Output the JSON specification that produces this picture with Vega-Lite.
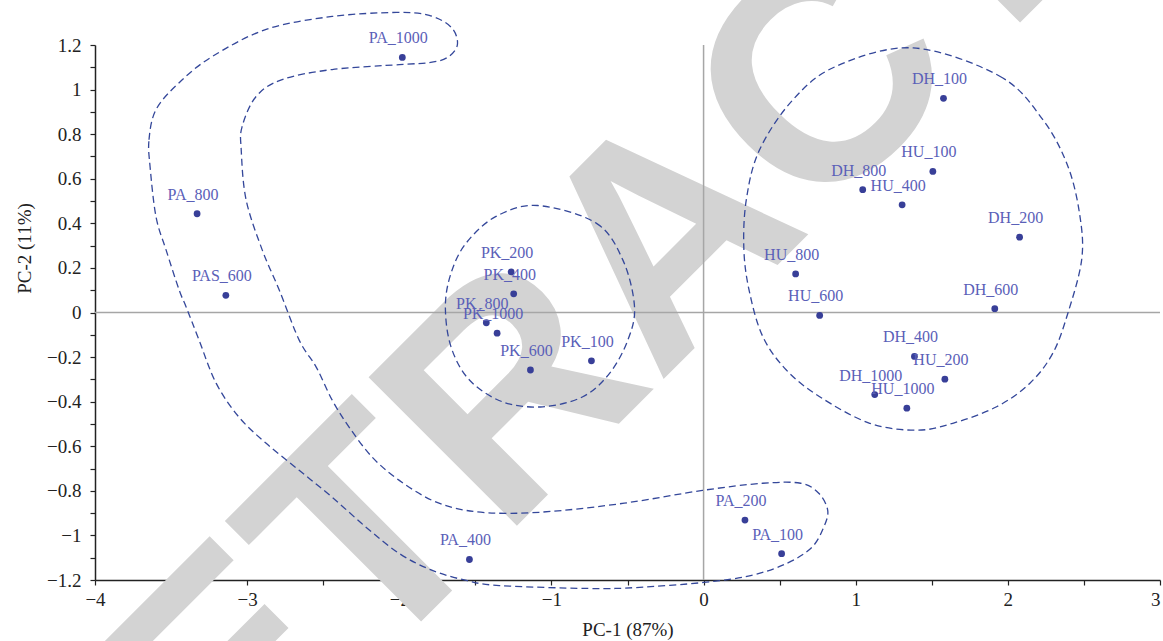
{
  "$schema": "https://vega.github.io/schema/vega-lite/v6.json",
  "width": 1065,
  "height": 535,
  "autosize": {"type": "none"},
  "padding": {"left": 95, "top": 45, "right": 3, "bottom": 61},
  "background": "white",
  "config": {
    "view": {"stroke": null},
    "axis": {
      "grid": false,
      "zindex": 1,
      "labelFont": "Liberation Serif",
      "labelFontSize": 19,
      "labelColor": "#222222",
      "titleFont": "Liberation Serif",
      "titleFontSize": 19,
      "titleFontWeight": "normal",
      "titleColor": "#222222",
      "domainColor": "#222222",
      "domainWidth": 1.5,
      "tickColor": "#222222",
      "tickWidth": 1.2,
      "tickSize": 5,
      "labelFlush": false,
      "labelOverlap": false,
      "format": "~g"
    }
  },
  "datasets": {
    "points": [
      {"name": "PA_1000", "x": -1.98, "y": 1.144},
      {"name": "PA_800", "x": -3.329, "y": 0.443},
      {"name": "PAS_600", "x": -3.14, "y": 0.077},
      {"name": "PK_200", "x": -1.265, "y": 0.182},
      {"name": "PK_400", "x": -1.248, "y": 0.084},
      {"name": "PK_800", "x": -1.428, "y": -0.046},
      {"name": "PK_1000", "x": -1.357, "y": -0.093},
      {"name": "PK_600", "x": -1.138, "y": -0.258},
      {"name": "PK_100", "x": -0.737, "y": -0.217},
      {"name": "PA_400", "x": -1.539, "y": -1.108},
      {"name": "PA_200", "x": 0.272, "y": -0.931},
      {"name": "PA_100", "x": 0.513, "y": -1.082},
      {"name": "DH_100", "x": 1.577, "y": 0.961},
      {"name": "HU_100", "x": 1.507, "y": 0.633},
      {"name": "DH_800", "x": 1.046, "y": 0.551},
      {"name": "HU_400", "x": 1.305, "y": 0.483},
      {"name": "DH_200", "x": 2.077, "y": 0.338},
      {"name": "HU_800", "x": 0.605, "y": 0.173},
      {"name": "HU_600", "x": 0.763, "y": -0.013},
      {"name": "DH_600", "x": 1.914, "y": 0.017},
      {"name": "DH_400", "x": 1.386, "y": -0.197},
      {"name": "HU_200", "x": 1.586, "y": -0.299},
      {"name": "DH_1000", "x": 1.125, "y": -0.368},
      {"name": "HU_1000", "x": 1.336, "y": -0.429}
    ],
    "outlines": [
      {"shape": "PA", "i": 1, "x": -3.638, "y": 0.654},
      {"shape": "PA", "i": 2, "x": -3.645, "y": 0.775},
      {"shape": "PA", "i": 3, "x": -3.599, "y": 0.91},
      {"shape": "PA", "i": 4, "x": -3.447, "y": 1.031},
      {"shape": "PA", "i": 5, "x": -3.23, "y": 1.148},
      {"shape": "PA", "i": 6, "x": -2.875, "y": 1.27},
      {"shape": "PA", "i": 7, "x": -2.441, "y": 1.328},
      {"shape": "PA", "i": 8, "x": -2.02, "y": 1.346},
      {"shape": "PA", "i": 9, "x": -1.803, "y": 1.333},
      {"shape": "PA", "i": 10, "x": -1.658, "y": 1.279},
      {"shape": "PA", "i": 11, "x": -1.618, "y": 1.202},
      {"shape": "PA", "i": 12, "x": -1.684, "y": 1.144},
      {"shape": "PA", "i": 13, "x": -1.803, "y": 1.121},
      {"shape": "PA", "i": 14, "x": -2.0, "y": 1.112},
      {"shape": "PA", "i": 15, "x": -2.441, "y": 1.09},
      {"shape": "PA", "i": 16, "x": -2.77, "y": 1.045},
      {"shape": "PA", "i": 17, "x": -2.941, "y": 0.969},
      {"shape": "PA", "i": 18, "x": -3.033, "y": 0.834},
      {"shape": "PA", "i": 19, "x": -3.039, "y": 0.73},
      {"shape": "PA", "i": 20, "x": -3.007, "y": 0.506},
      {"shape": "PA", "i": 21, "x": -2.901, "y": 0.281},
      {"shape": "PA", "i": 22, "x": -2.789, "y": 0.101},
      {"shape": "PA", "i": 23, "x": -2.658, "y": -0.124},
      {"shape": "PA", "i": 24, "x": -2.546, "y": -0.245},
      {"shape": "PA", "i": 25, "x": -2.441, "y": -0.393},
      {"shape": "PA", "i": 26, "x": -2.329, "y": -0.515},
      {"shape": "PA", "i": 27, "x": -2.178, "y": -0.649},
      {"shape": "PA", "i": 28, "x": -2.0, "y": -0.753},
      {"shape": "PA", "i": 29, "x": -1.783, "y": -0.843},
      {"shape": "PA", "i": 30, "x": -1.559, "y": -0.888},
      {"shape": "PA", "i": 31, "x": -1.276, "y": -0.901},
      {"shape": "PA", "i": 32, "x": -0.928, "y": -0.888},
      {"shape": "PA", "i": 33, "x": -0.487, "y": -0.852},
      {"shape": "PA", "i": 34, "x": -0.007, "y": -0.798},
      {"shape": "PA", "i": 35, "x": 0.388, "y": -0.766},
      {"shape": "PA", "i": 36, "x": 0.638, "y": -0.766},
      {"shape": "PA", "i": 37, "x": 0.757, "y": -0.811},
      {"shape": "PA", "i": 38, "x": 0.816, "y": -0.888},
      {"shape": "PA", "i": 39, "x": 0.789, "y": -0.964},
      {"shape": "PA", "i": 40, "x": 0.711, "y": -1.054},
      {"shape": "PA", "i": 41, "x": 0.546, "y": -1.126},
      {"shape": "PA", "i": 42, "x": 0.309, "y": -1.18},
      {"shape": "PA", "i": 43, "x": 0.0, "y": -1.211},
      {"shape": "PA", "i": 44, "x": -0.447, "y": -1.234},
      {"shape": "PA", "i": 45, "x": -0.757, "y": -1.238},
      {"shape": "PA", "i": 46, "x": -1.342, "y": -1.225},
      {"shape": "PA", "i": 47, "x": -1.559, "y": -1.202},
      {"shape": "PA", "i": 48, "x": -1.783, "y": -1.157},
      {"shape": "PA", "i": 49, "x": -2.0, "y": -1.081},
      {"shape": "PA", "i": 50, "x": -2.217, "y": -0.964},
      {"shape": "PA", "i": 51, "x": -2.441, "y": -0.829},
      {"shape": "PA", "i": 52, "x": -2.658, "y": -0.708},
      {"shape": "PA", "i": 53, "x": -2.875, "y": -0.587},
      {"shape": "PA", "i": 54, "x": -3.053, "y": -0.47},
      {"shape": "PA", "i": 55, "x": -3.204, "y": -0.317},
      {"shape": "PA", "i": 56, "x": -3.316, "y": -0.124},
      {"shape": "PA", "i": 57, "x": -3.401, "y": 0.025},
      {"shape": "PA", "i": 58, "x": -3.447, "y": 0.101},
      {"shape": "PA", "i": 59, "x": -3.533, "y": 0.281},
      {"shape": "PA", "i": 60, "x": -3.599, "y": 0.429},
      {"shape": "PK", "i": 1, "x": -1.09, "y": 0.48},
      {"shape": "PK", "i": 2, "x": -0.706, "y": 0.401},
      {"shape": "PK", "i": 3, "x": -0.531, "y": 0.236},
      {"shape": "PK", "i": 4, "x": -0.454, "y": 0.026},
      {"shape": "PK", "i": 5, "x": -0.498, "y": -0.124},
      {"shape": "PK", "i": 6, "x": -0.618, "y": -0.273},
      {"shape": "PK", "i": 7, "x": -0.794, "y": -0.378},
      {"shape": "PK", "i": 8, "x": -1.057, "y": -0.423},
      {"shape": "PK", "i": 9, "x": -1.32, "y": -0.401},
      {"shape": "PK", "i": 10, "x": -1.539, "y": -0.303},
      {"shape": "PK", "i": 11, "x": -1.66, "y": -0.154},
      {"shape": "PK", "i": 12, "x": -1.697, "y": 0.026},
      {"shape": "PK", "i": 13, "x": -1.66, "y": 0.176},
      {"shape": "PK", "i": 14, "x": -1.561, "y": 0.311},
      {"shape": "PK", "i": 15, "x": -1.364, "y": 0.431},
      {"shape": "DH", "i": 1, "x": 1.377, "y": 1.187},
      {"shape": "DH", "i": 2, "x": 1.947, "y": 1.06},
      {"shape": "DH", "i": 3, "x": 2.23, "y": 0.865},
      {"shape": "DH", "i": 4, "x": 2.395, "y": 0.655},
      {"shape": "DH", "i": 5, "x": 2.474, "y": 0.431},
      {"shape": "DH", "i": 6, "x": 2.485, "y": 0.236},
      {"shape": "DH", "i": 7, "x": 2.395, "y": -0.002},
      {"shape": "DH", "i": 8, "x": 2.296, "y": -0.182},
      {"shape": "DH", "i": 9, "x": 2.145, "y": -0.317},
      {"shape": "DH", "i": 10, "x": 1.926, "y": -0.423},
      {"shape": "DH", "i": 11, "x": 1.638, "y": -0.497},
      {"shape": "DH", "i": 12, "x": 1.399, "y": -0.528},
      {"shape": "DH", "i": 13, "x": 1.092, "y": -0.497},
      {"shape": "DH", "i": 14, "x": 0.763, "y": -0.378},
      {"shape": "DH", "i": 15, "x": 0.544, "y": -0.258},
      {"shape": "DH", "i": 16, "x": 0.39, "y": -0.109},
      {"shape": "DH", "i": 17, "x": 0.303, "y": 0.088},
      {"shape": "DH", "i": 18, "x": 0.265, "y": 0.281},
      {"shape": "DH", "i": 19, "x": 0.281, "y": 0.506},
      {"shape": "DH", "i": 20, "x": 0.368, "y": 0.73},
      {"shape": "DH", "i": 21, "x": 0.588, "y": 0.955},
      {"shape": "DH", "i": 22, "x": 0.873, "y": 1.105}
    ]
  },
  "encoding": {
    "x": {
      "type": "quantitative",
      "scale": {"domain": [-4, 3], "nice": false, "zero": false},
      "axis": {
        "title": "PC-1 (87%)",
        "values": [-4, -3.5, -3, -2.5, -2, -1.5, -1, -0.5, 0, 0.5, 1, 1.5, 2, 2.5, 3],
        "labelExpr": "datum.value % 1 === 0 ? datum.label : ''",
        "labelAlign": {"condition": {"test": "datum.value === 3", "value": "right"}, "value": "center"},
        "labelPadding": 5,
        "titlePadding": 11
      }
    },
    "y": {
      "type": "quantitative",
      "scale": {"domain": [-1.2, 1.2], "nice": false, "zero": false},
      "axis": {
        "title": "PC-2 (11%)",
        "values": [-1.2, -1.1, -1, -0.9, -0.8, -0.7, -0.6, -0.5, -0.4, -0.3, -0.2, -0.1, 0, 0.1, 0.2, 0.3, 0.4, 0.5, 0.6, 0.7, 0.8, 0.9, 1, 1.1, 1.2],
        "labelExpr": "abs(round(datum.value * 10)) % 2 === 0 ? datum.label : ''",
        "labelPadding": 9,
        "titlePadding": 12,
        "titleY": 203
      }
    }
  },
  "layer": [
    {
      "data": {"values": [{"word": "RETRACTED"}]},
      "mark": {
        "type": "text",
        "font": "Liberation Sans",
        "fontWeight": "bold",
        "fontSize": 305,
        "angle": -45,
        "align": "center",
        "baseline": "alphabetic",
        "color": "#d3d3d3"
      },
      "encoding": {
        "x": {"datum": 0.214, "type": "quantitative"},
        "y": {"datum": 0.027, "type": "quantitative"},
        "text": {"field": "word"}
      }
    },
    {
      "data": {"values": [{"v": 0}]},
      "mark": {"type": "rule", "color": "#a6a6a6", "strokeWidth": 1.5},
      "encoding": {"x": {"field": "v", "type": "quantitative"}}
    },
    {
      "data": {"values": [{"v": 0}]},
      "mark": {"type": "rule", "color": "#a6a6a6", "strokeWidth": 1.5},
      "encoding": {"y": {"field": "v", "type": "quantitative"}}
    },
    {
      "data": {"name": "outlines"},
      "mark": {
        "type": "line",
        "interpolate": "cardinal-closed",
        "strokeDash": [7, 4],
        "strokeWidth": 1.3,
        "color": "#34479a"
      },
      "encoding": {
        "x": {"field": "x", "type": "quantitative"},
        "y": {"field": "y", "type": "quantitative"},
        "detail": {"field": "shape"},
        "order": {"field": "i", "type": "quantitative"}
      }
    },
    {
      "data": {"name": "points"},
      "mark": {"type": "circle", "size": 46, "opacity": 1, "color": "#383f98"},
      "encoding": {
        "x": {"field": "x", "type": "quantitative"},
        "y": {"field": "y", "type": "quantitative"}
      }
    },
    {
      "data": {"name": "points"},
      "mark": {
        "type": "text",
        "font": "Liberation Serif",
        "fontSize": 16,
        "color": "#5a60b8",
        "align": "center",
        "baseline": "middle",
        "dx": -4,
        "dy": -19
      },
      "encoding": {
        "x": {"field": "x", "type": "quantitative"},
        "y": {"field": "y", "type": "quantitative"},
        "text": {"field": "name"}
      }
    }
  ]
}
